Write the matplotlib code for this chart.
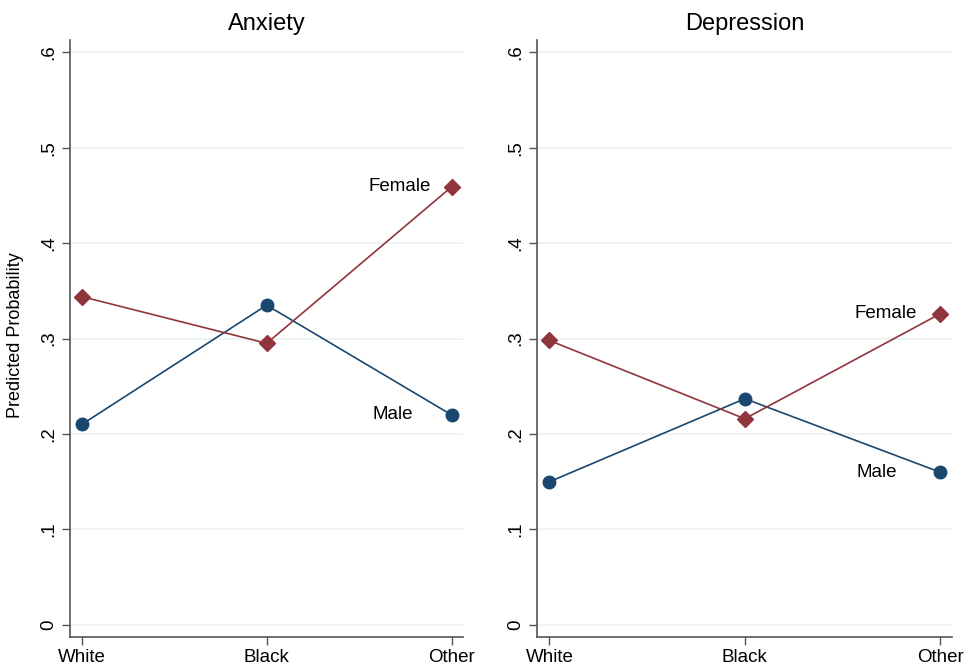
import matplotlib
matplotlib.use("Agg")
import matplotlib.pyplot as plt

plt.rcParams['font.family'] = ['Liberation Sans', 'DejaVu Sans']

groups = ['White', 'Black', 'Other']
yticks = [0, 0.1, 0.2, 0.3, 0.4, 0.5, 0.6]
ytick_labels = ['0', '.1', '.2', '.3', '.4', '.5', '.6']

anx_male = [0.210, 0.335, 0.220]
anx_female = [0.344, 0.295, 0.459]
dep_male = [0.150, 0.237, 0.160]
dep_female = [0.298, 0.216, 0.326]

navy = '#1a476f'
maroon = '#90353b'
grid_col = '#eaf2f3'

fig = plt.figure(figsize=(9.66, 6.70), dpi=100)
ax1 = fig.add_axes([0.0725, 0.0493, 0.4065, 0.8907])
ax2 = fig.add_axes([0.556, 0.0493, 0.4295, 0.8907])

panels = [
    (ax1, 'Anxiety', anx_male, anx_female, (1.79, 1.886)),
    (ax2, 'Depression', dep_male, dep_female, (1.78, 1.88)),
]

for ax, title, male, female, lab_x in panels:
    x = range(len(groups))
    ax.plot(x, male, color=navy, lw=1.2, marker='o', markersize=9, zorder=3)
    ax.plot(x, female, color=maroon, lw=1.2, marker='D', markersize=8.5, zorder=3)
    ax.text(lab_x[0], male[-1], 'Male', ha='right', va='center', fontsize=13.5)
    ax.text(lab_x[1], female[-1], 'Female', ha='right', va='center', fontsize=13.5)

    ax.set_xlim(-0.063, 2.06)
    ax.set_ylim(-0.0126, 0.6126)
    ax.set_xticks(list(x))
    ax.set_xticklabels(groups, fontsize=13.5)
    ax.set_yticks(yticks)
    ax.set_yticklabels(ytick_labels, fontsize=13.5, rotation=90, va='center')
    ax.grid(axis='y', color=grid_col, lw=1.2)
    ax.set_axisbelow(True)
    for s in ['top', 'right']:
        ax.spines[s].set_visible(False)
    for s in ['left', 'bottom']:
        ax.spines[s].set_color('#555555')
        ax.spines[s].set_linewidth(1.2)
    ax.tick_params(length=6, width=1, color='#555555', pad=3)
    ax.set_title(title, fontsize=17, pad=7)

fig.text(0.016, 0.5, 'Predicted Probability', rotation=90, va='center',
         ha='center', fontsize=13)

fig.savefig('out.png', dpi=100, facecolor='white')
